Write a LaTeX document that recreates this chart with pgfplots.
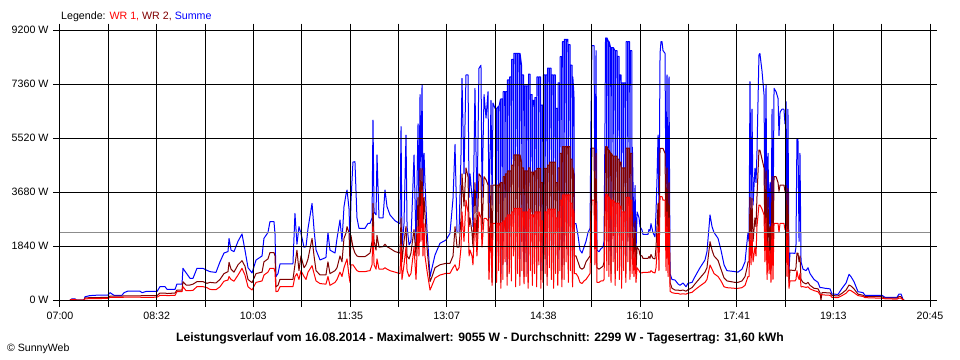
\documentclass[border=0pt]{standalone}
\usepackage{pgfplots}
\pgfplotsset{compat=1.18}
\usepackage{pgfplotstable}
\usepackage{fontspec}
\setmainfont{Liberation Sans}
\definecolor{wrone}{RGB}{255,0,0}
\definecolor{wrtwo}{RGB}{128,0,0}
\definecolor{summe}{RGB}{0,0,255}
\definecolor{avg}{RGB}{140,140,140}

\pgfplotstableread{
t S W2 W1
9.5 0 0 0
11.4 40 25 15
14.2 40 25 15
15.2 0 0 0
22.8 0 0 0
23.7 110 70 40
28.4 150 80 45
37.9 170 85 50
45.5 170 90 55
47.4 250 130 90
51.2 160 130 90
58.8 160 130 90
60.7 250 140 95
64.5 306 140 95
75.9 300 140 95
77.8 250 150 90
81.6 290 150 90
92.0 290 150 95
94.8 455 238 159
99.6 455 238 159
101.5 363 220 150
109.1 363 238 159
110.9 545 340 284
115.7 545 340 284
116.6 1080 625 455
119.5 930 511 318
123.3 738 511 318
126.1 738 540 330
129.9 1080 625 455
135.6 1080 625 455
139.4 1010 568 420
142.2 966 600 360
147.9 940 580 350
151.7 1300 700 450
155.5 1600 900 640
159.3 1650 966 681
160.3 2100 1284 800
162.2 1700 1050 700
165.0 1650 950 640
168.8 2000 1200 850
172.6 2250 1340 1079
175.4 1700 1150 850
178.3 1100 700 450
182.1 920 590 340
185.9 1363 900 600
191.6 1500 950 650
193.4 2100 1300 850
197.2 2300 1400 950
199.1 2670 1613 1079
202.9 2670 1613 1079
203.9 2250 1500 950
204.8 795 454 284
206.7 900 500 300
208.6 1227 704 454
220.9 1227 704 454
222.8 2953 1200 800
224.7 1900 1700 900
226.6 2500 1000 700
228.5 2271 1500 1000
231.4 1800 1100 800
233.3 1817 1200 700
235.2 2442 1400 950
239.0 3294 2100 1170
240.9 2400 1500 900
242.8 1703 1000 650
246.6 1363 852 560
252.2 1450 852 540
254.1 2306 1300 800
256.0 1700 900 500
260.8 1600 1000 600
262.7 2100 1100 700
265.5 2726 1500 950
267.4 2000 1300 800
269.3 3180 2100 1100
271.2 3600 2283 1300
272.2 3748 2500 1400
274.1 3100 2283 800
275.0 1900 1200 600
275.9 3351 2200 1200
277.8 4700 1800 1200
279.7 4713 1600 1100
281.6 2800 1500 1000
283.5 2442 1476 966
289.2 2442 1476 966
292.1 2612 1550 990
294.0 2612 1600 1000
295.9 2800 2000 1200
296.8 6133 3294 2500
297.8 3000 2000 1200
299.7 2900 1700 1050
300.6 4941 2200 1400
302.5 2800 1800 1050
306.3 2800 1817 1050
308.2 3748 1900 1100
310.1 3180 1817 1050
312.9 2900 1760 1000
317.7 2700 1650 950
322.4 2600 1600 900
323.4 5906 2800 1900
324.3 1800 1300 700
326.2 2600 2000 1200
328.1 5622 2500 1800
329.1 2500 1500 1000
331.0 1874 1400 800
332.8 2000 1600 900
335.7 4941 2400 1800
337.6 1900 1500 700
339.5 6000 3500 2500
340.4 3000 2000 1500
341.4 7000 4486 3200
342.3 4000 2800 2000
343.3 7326 4486 3748
344.2 3500 2500 1500
345.2 5000 3500 2600
346.1 4000 2900 1500
348.0 2400 1800 1000
350.9 795 625 340
352.8 1100 800 500
355.6 1533 1100 750
360.3 1931 1200 850
366.0 2044 1249 908
369.8 2271 1249 908
372.7 3465 1500 1100
374.6 5300 2500 1200
376.5 2300 1800 1000
378.4 2300 1800 1100
380.3 5000 2800 1800
381.2 7553 4300 3000
383.1 4300 3200 2000
385.0 7667 4500 3400
386.9 7667 4200 3000
387.9 3500 2500 1500
388.8 4300 2800 1700
390.7 3500 2300 1500
391.6 2500 1800 1200
393.5 7213 4000 2800
395.4 3000 2000 1500
397.3 7894 4300 3000
399.2 8000 4202 2800
400.2 3500 2400 1800
402.1 7000 4202 2783
404.0 6200 4100 2783
405.9 7100 3918 2700
406.8 2800 1000 700
408.7 6800 3918 2612
409.7 3237 600 500
410.6 6712 3918 2612
412.5 6531 3918 2612
413.7 6531 3918 2612
414.0 1500 900 600
414.3 6531 3918 2612
415.7 6600 3918 2612
416.0 2600 1500 1000
416.3 6600 3918 2612
417.7 6849 4000 2612
418.0 900 600 400
418.3 6849 4000 2612
419.7 6849 4000 2650
420.0 2000 1200 700
420.3 7099 4200 2700
421.7 7099 4200 2700
422.0 3500 2300 1300
422.3 7099 4300 2800
423.7 7099 4300 2800
424.0 1200 800 500
424.3 7500 4400 2900
425.7 7500 4400 2900
426.0 2300 1400 900
426.3 7600 4400 2900
427.7 7600 4400 2900
428.0 1800 1100 650
428.3 8200 4600 3000
429.7 8200 4600 3000
430.0 4000 2600 1500
430.3 8406 4941 3124
431.7 8406 4941 3124
432.0 1000 700 450
432.3 8406 4941 3124
433.7 8406 4941 3124
434.0 2500 1500 900
434.3 8406 4941 3124
435.7 8400 4941 3124
436.0 1400 800 500
436.3 8400 4941 3124
437.7 8000 4700 3124
438.0 3000 2000 1000
438.3 7667 4500 3000
439.7 7667 4500 3000
440.0 1300 800 550
440.3 7300 4400 3000
441.7 7300 4400 3000
442.0 2000 1300 800
442.3 7300 4400 3000
443.7 7300 4400 3000
444.0 900 600 400
444.3 7700 4500 3100
445.7 7700 4500 3100
446.0 2500 1500 1000
446.3 7000 4360 2900
447.7 7000 4360 2900
448.0 1200 800 500
448.3 6800 4360 2900
449.7 6800 4360 2900
450.0 2200 1300 900
450.3 6900 4400 3000
451.7 6900 4400 3000
452.0 1100 700 450
452.3 7600 4486 3000
453.7 7600 4486 3000
454.0 3200 2000 1200
454.3 7600 4486 3000
455.7 7600 4486 3000
456.0 1000 700 400
456.3 6644 4000 2700
457.7 6644 4000 2700
458.0 1600 1000 600
458.3 7667 4486 3000
459.7 7667 4486 3000
460.0 2300 1400 900
460.3 7667 4486 3000
461.7 7667 4486 3000
462.0 1200 800 500
462.3 7900 4600 3100
463.7 7900 4600 3100
464.0 3000 1900 1100
464.3 7900 4700 3100
465.7 7900 4700 3100
466.0 1700 1000 700
466.3 7667 4700 3100
467.7 7667 4700 3100
468.0 1000 600 400
468.3 7667 4700 3100
469.7 7667 4700 3100
470.0 2500 1500 900
470.3 6531 4000 2800
471.7 6531 4000 2800
472.0 1400 900 500
472.3 7400 4500 3000
473.7 7400 4500 3000
474.0 2800 1800 1000
474.3 8292 5000 3400
475.7 8292 5000 3400
476.0 1200 700 450
476.3 8800 5224 3578
477.7 8800 5224 3578
478.0 2000 1200 700
478.3 8883 5224 3578
479.7 8883 5224 3578
480.0 3500 2200 1300
480.3 8883 5224 3578
481.7 8883 5224 3578
482.0 1500 900 600
482.3 8700 5224 3578
483.7 8700 5224 3578
484.0 2500 1500 1000
484.3 8000 4800 3300
485.7 8000 4800 3300
486.0 1100 700 450
486.3 7600 4500 3100
487.4 7000 4300 3000
487.8 2600 1500 900
489.3 2600 1500 900
491.2 2200 1300 800
493.1 1700 1100 600
495.0 1600 1050 560
496.9 1800 1100 650
498.8 2000 1300 700
500.7 2300 1400 800
502.6 2442 1500 900
503.5 6000 3500 2400
504.4 8664 5178 3400
506.4 8664 5178 3400
507.3 3000 1800 1200
508.3 8500 5000 3300
509.2 1700 1100 600
511.1 1646 1050 600
513.0 1750 1100 650
514.9 1800 1150 650
515.9 2000 1300 700
516.8 6000 3500 2500
517.3 8928 5224 3600
518.2 8928 5224 3600
518.5 3000 2000 1000
518.8 8928 5224 3600
520.2 8800 5100 3500
520.5 2000 1200 800
520.8 8800 5100 3500
522.2 8600 5000 3400
522.5 1500 900 600
522.8 8600 5000 3400
524.2 8600 4900 3400
524.5 3500 2200 1300
524.8 8600 4900 3400
526.2 8500 4900 3300
526.5 1400 900 500
526.8 8500 4900 3300
528.2 8500 4900 3300
528.5 2600 1600 1000
528.8 8300 4800 3300
530.2 8300 4800 3300
530.5 1800 1100 700
530.8 7667 4700 3200
532.2 7667 4700 3200
532.5 1100 700 400
532.8 7400 4500 3000
534.2 7400 4500 3000
534.5 2500 1500 1000
534.8 7400 4500 3000
536.2 7400 4500 3000
536.5 1500 900 600
536.8 8800 5178 3500
538.2 8800 5178 3500
538.5 3300 2000 1300
538.8 8800 5178 3500
540.2 8800 5178 3500
540.5 1700 1000 700
540.8 8500 5000 3400
542.2 8500 5000 3400
542.5 2300 1400 900
542.8 5200 3000 2100
544.3 2000 1300 800
545.3 3900 2700 1700
546.2 1600 1000 600
547.2 3000 1800 1100
549.1 2800 1700 1000
550.0 2500 1533 940
551.9 2385 1500 920
552.8 2237 1420 943
557.6 2237 1420 943
558.5 2400 1480 960
559.5 2350 1420 943
560.4 2600 1550 1000
562.3 2300 1420 943
564.2 2150 1400 920
565.2 3000 1800 1100
566.1 4100 2500 1600
567.1 5622 3300 2500
568.0 2900 1800 1000
569.0 8400 5167 3521
569.9 8800 5167 3521
570.9 8800 5167 3521
571.8 8500 5167 3400
573.7 8406 5000 3400
574.7 3000 2000 1000
575.6 7667 4500 3000
576.6 1500 1400 800
577.5 7600 4000 2800
578.5 900 600 300
580.3 700 400 250
583.2 681 340 227
586.0 550 340 227
587.9 500 320 200
590.8 580 340 210
593.6 454 300 200
595.5 568 350 230
599.3 600 420 260
602.2 800 550 350
606.9 1100 750 480
611.6 1363 950 600
613.5 1646 1100 700
616.4 2900 1988 1193
618.3 2500 1700 1050
620.2 2300 1500 900
624.0 2100 1350 800
626.8 1700 1050 650
629.7 1200 750 450
632.5 1000 650 420
640.1 966 600 398
642.9 950 600 398
646.7 1050 650 420
649.6 1300 800 500
651.5 1988 1100 700
652.4 2300 1300 800
653.4 2000 1300 800
654.3 7440 3500 2300
655.3 3000 2000 1200
656.2 6500 3465 2300
657.2 3237 2000 1300
659.0 4486 2800 1800
660.0 4000 2500 1500
660.9 5000 3500 2500
662.8 8349 5111 3237
663.7 8400 5111 3237
665.7 7800 4800 3100
667.6 7000 4500 2900
668.5 3000 2000 1300
669.5 7326 4400 2800
670.5 1874 1200 700
671.4 5000 3500 2000
672.4 2300 1500 900
673.3 4000 2500 1700
674.2 1700 1000 600
675.2 6500 4202 2612
676.1 2000 1300 700
677.1 7213 4202 2612
679.0 7100 4202 2612
680.9 6871 4000 2612
681.8 5600 3700 2300
682.8 6400 3918 2612
684.6 6500 3918 2612
686.5 6500 3918 2612
687.5 6000 3700 2400
688.5 6758 3900 2500
689.4 2000 1300 800
690.3 6500 3800 2400
691.3 1000 600 400
692.2 1600 1022 650
697.0 1590 1000 650
697.9 1800 1100 700
698.8 5474 1600 1000
699.8 5474 1600 800
700.8 2000 1300 700
701.7 5000 1500 900
702.7 1300 700 450
704.6 1050 600 454
707.4 1000 550 430
709.3 1100 600 450
711.2 900 500 380
715.0 700 400 320
718.8 600 380 280
720.7 420 250 180
721.6 420 0 180
722.6 420 250 180
725.4 400 250 170
730.2 380 240 160
732.1 200 150 90
737.8 193 140 80
741.6 400 230 150
745.4 580 340 230
748.2 875 511 340
750.0 800 480 320
752.9 625 380 250
756.7 284 200 150
761.5 250 160 120
763.4 159 120 80
779.5 159 110 60
782.3 91 60 40
793.7 91 60 30
795.6 204 120 60
797.5 204 110 60
799.4 23 15 10
800.3 0 0 0
}\data

\begin{document}
\begin{tikzpicture}
\path[use as bounding box] (-60bp,-60bp) rectangle (900bp,300bp);
\begin{axis}[
  at={(0bp,0bp)}, anchor=south west,
  scale only axis, width=870bp, height=270bp,
  xmin=0, xmax=825, ymin=0, ymax=9200,
  xtick={0,45.833,91.667,137.5,183.333,229.167,275,320.833,366.667,412.5,458.333,504.167,550,595.833,641.667,687.5,733.333,779.167,825},
  xticklabels={07:00,,08:32,,10:03,,11:35,,13:07,,14:38,,16:10,,17:41,,19:13,,20:45},
  ytick={0,1840,3680,5520,7360,9200},
  yticklabels={0 W,1840 W,3680 W,5520 W,7360 W,9200 W},
  grid=major,
  grid style={black, line width=1bp},
  axis line style={black, line width=1bp},
  tick style={black, line width=1bp},
  tick align=outside,
  major tick length=6.5bp,
  ticklabel style={font=\fontsize{10.7}{12}\selectfont},
  xticklabel style={yshift=-2bp},
  yticklabel style={xshift=-1.5bp},
  axis on top,
  clip=true,
]
\addplot[summe, line width=1bp, line join=round] table[x=t, y=S] {\data};
\addplot[wrtwo, line width=1bp, line join=round] table[x=t, y=W2] {\data};
\addplot[wrone, line width=1bp, line join=round] table[x=t, y=W1] {\data};
\addplot[avg, line width=1bp] coordinates {(0,2299) (825,2299)};
\end{axis}
\node[anchor=base west, inner sep=0pt, font=\fontsize{10.7}{12}\selectfont] at (1bp,280.5bp)
  {Legende: \textcolor{wrone}{WR 1,} \textcolor{wrtwo}{WR 2,} \textcolor{summe}{Summe}};
\node[anchor=base, inner sep=0pt, font=\bfseries\fontsize{12.2}{14}\selectfont] at (420bp,-41bp)
  {Leistungsverlauf vom 16.08.2014 - Maximalwert: 9055 W - Durchschnitt: 2299 W - Tagesertrag: 31,60 kWh};
\node[anchor=base west, inner sep=0pt, font=\fontsize{10.6}{12}\selectfont] at (-53bp,-51.5bp) {© SunnyWeb};
\end{tikzpicture}
\end{document}
